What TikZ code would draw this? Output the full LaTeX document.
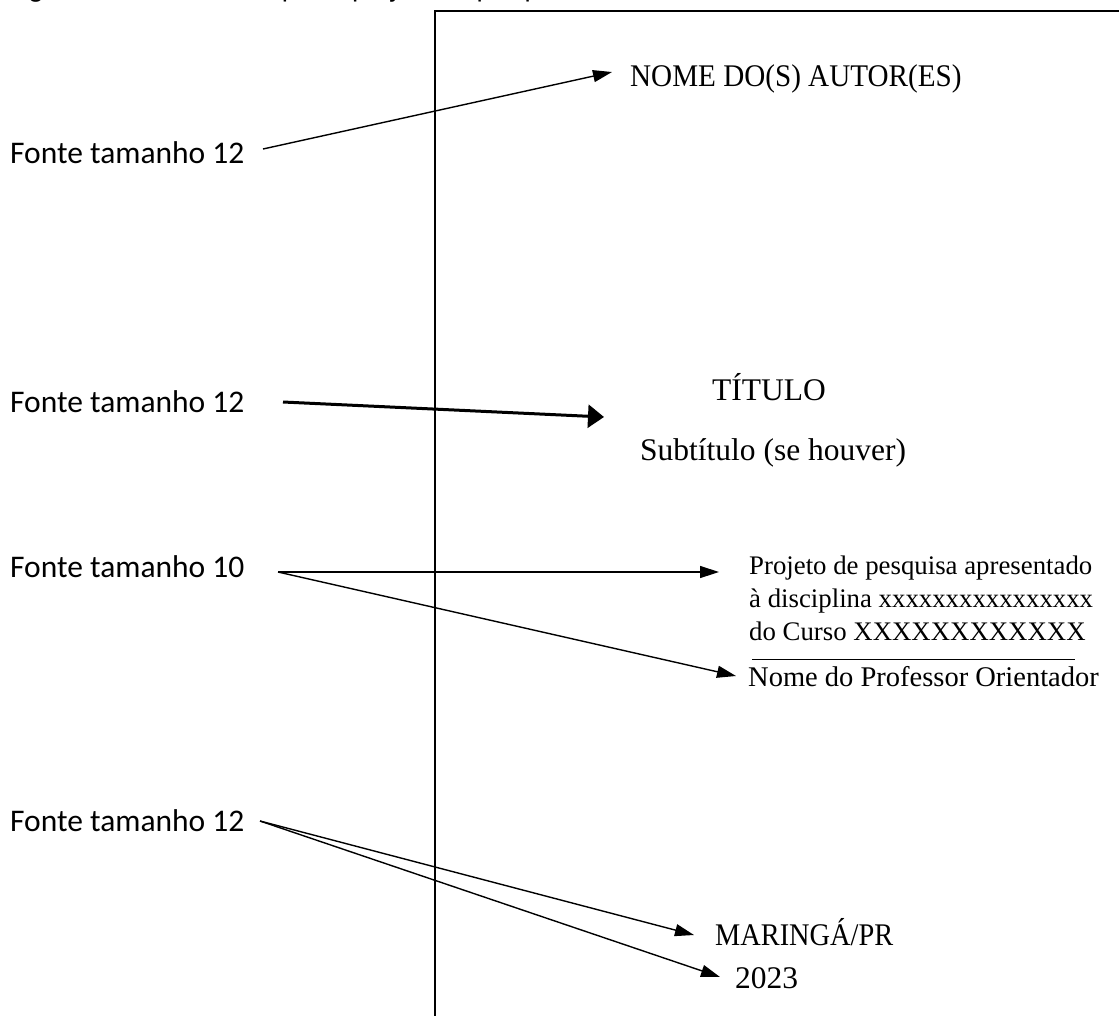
\documentclass[tikz,border=0pt]{standalone}
\usepackage{fontspec}
\setmainfont{Liberation Serif}
\newfontfamily\labelfont{Carlito}
\usetikzlibrary{arrows.meta}

\tikzset{
  lbl/.style={anchor=base west, inner sep=0pt, font=\labelfont\fontsize{31.5}{36}\selectfont},
  page/.style={anchor=base west, inner sep=0pt},
  big/.style={page, font=\fontsize{31.5}{36}\selectfont},
  small/.style={page, font=\fontsize{26.8}{30}\selectfont},
  arr/.style={line width=1.4pt, -{Triangle[length=19pt,width=12pt]}},
  thickarr/.style={line width=3pt, -{Triangle[length=16pt,width=23pt]}},
}

\begin{document}
\begin{tikzpicture}[x=1pt,y=-1pt]
\useasboundingbox (0,0) rectangle (1119,1015);
\clip (0,0) rectangle (1119,1015);

% caption of the figure, running off the top edge
\node[anchor=base west, inner sep=0pt, font=\labelfont\fontsize{28}{32}\selectfont] (cap) at (10,-3)
  {Figura 1 – Modelo de capa do projeto de pesquisa};

% page outline
\draw[line width=1.5pt] (435,1020) -- (435,11) -- (1125,11);

% side labels
\node[lbl] (l1) at (10,163) {Fonte tamanho 12};
\node[lbl] (l2) at (10,412) {Fonte tamanho 12};
\node[lbl] (l3) at (10,577) {Fonte tamanho 10};
\node[lbl] (l4) at (10,831) {Fonte tamanho 12};

% page contents
\node[big] (autor) at (630,86) {\scalebox{0.925}[1]{NOME DO(S) AUTOR(ES)}};
\node[big] (titulo) at (712,400) {TÍTULO};
\node[big] (sub) at (640,460) {Subtítulo (se houver)};
\node[small] (p1) at (749,574) {Projeto de pesquisa apresentado};
\node[small] (p2) at (749,607) {à disciplina xxxxxxxxxxxxxxxx};
\node[small] (p3) at (749,640) {do Curso XXXXXXXXXXXX};
\draw[line width=0.8pt] (752,659) -- (1075,659);
\node[page, font=\fontsize{28.5}{30}\selectfont] (prof) at (748,686) {Nome do Professor Orientador};
\node[big] (cidade) at (715,945) {\scalebox{0.9}[1]{MARINGÁ/PR}};
\node[big] (ano) at (735,988) {2023};

% connector ends
\coordinate (s1) at (263,149);
\coordinate (t1) at (612,72);
\coordinate (s2) at (283,402);
\coordinate (t2) at (604,417);
\coordinate (s3) at (278,572);
\coordinate (t3a) at (719,572);
\coordinate (t3b) at (736,676);
\coordinate (s4) at (260,821);
\coordinate (t4a) at (694,935);
\coordinate (t4b) at (720,977);

% connectors
\draw[arr] (s1) -- (t1);
\draw[thickarr] (s2) -- (t2);
\draw[arr] (s3) -- (t3a);
\draw[arr] (s3) -- (t3b);
\draw[arr] (s4) -- (t4a);
\draw[arr] (s4) -- (t4b);
\end{tikzpicture}
\end{document}
